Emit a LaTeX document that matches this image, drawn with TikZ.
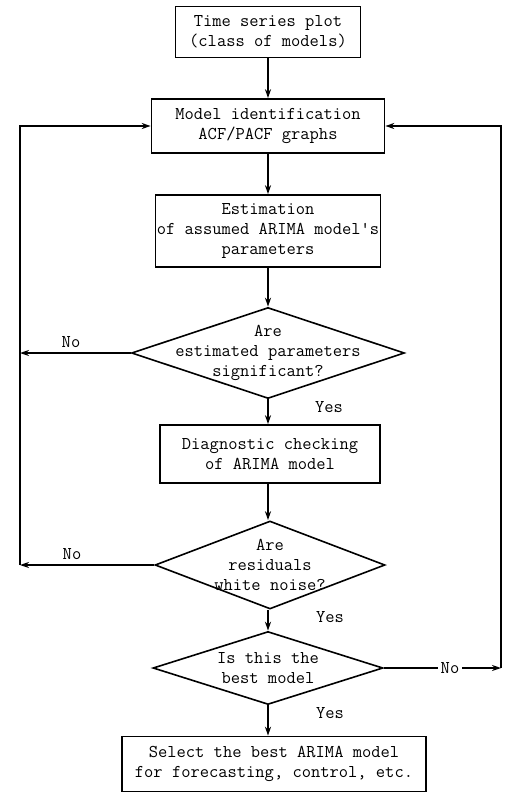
\documentclass[tikz,border=0pt]{standalone}
\usepackage{fontspec}
\usetikzlibrary{shapes.geometric,arrows.meta}

\begin{document}
\begin{tikzpicture}[x=1pt, y=-1pt,
  font=\fontsize{18}{20}\selectfont\ttfamily,
  block/.style={draw, line width=1.6pt, align=center, inner sep=0pt},
  decision/.style={draw, shape=diamond, line width=1.6pt, inner sep=0pt},
  flow/.style={-{Stealth[length=9pt,width=6pt]}, line width=1.6pt},
  tag/.style={inner sep=1pt}]
\useasboundingbox (0,0) rectangle (504,795);

% main column
\node[block, minimum width=185pt, minimum height=51pt] (plot) at (268,32) {Time series plot\\(class of models)};
\node[block, minimum width=233pt, minimum height=54pt] (ident) at (268,126) {Model identification\\ACF/PACF graphs};
\node[block, minimum width=225pt, minimum height=72pt] (estim) at (268,231) {Estimation\\of assumed ARIMA model's\\parameters};
\node[decision, minimum width=273pt, minimum height=91pt,
  label={[align=center]center:Are\\estimated parameters\\significant?}] (signif) at (268,353) {};
\node[block, minimum width=220pt, minimum height=58pt] (diag) at (270,454) {Diagnostic checking\\of ARIMA model};
\node[decision, minimum width=230pt, minimum height=88pt,
  label={[align=center]center:Are\\residuals\\white noise?}] (white) at (270,565) {};
\node[decision, minimum width=230pt, minimum height=73pt,
  label={[align=center]center:Is this the\\best model}] (best) at (268,668) {};
\node[block, minimum width=304pt, minimum height=55pt] (select) at (274,764) {Select the best ARIMA model\\for forecasting, control, etc.};

% loop corners
\coordinate (lbar) at (20,126);
\coordinate (rbar) at (501,126);

% down the column
\draw[flow] (plot.south) -- (plot.south |- ident.north);
\draw[flow] (ident.south) -- (ident.south |- estim.north);
\draw[flow] (estim.south) -- (estim.south |- signif.north);
\draw[flow] (signif.south) -- (signif.south |- diag.north);
\draw[flow] (diag.south -| signif.south) -- (white.north -| signif.south);
\draw[flow] (white.south -| signif.south) -- (best.north);
\draw[flow] (best.south) -- (best.south |- select.north);

\node[tag] (yes1) at (329,407) {Yes};
\node[tag] (yes2) at (330,617) {Yes};
\node[tag] (yes3) at (330,713) {Yes};

% back to identification
\draw[flow] (signif.west) -- (signif.west -| lbar);
\draw[flow] (white.west) -- (white.west -| lbar);
\draw[flow] (white.west -| lbar) -- (lbar) -- (ident.west);
\node[tag] (no1) at (71,342) {No};
\node[tag] (no2) at (72,554) {No};

\draw[flow] (best.east) -- (best.east -| rbar);
\draw[flow] (best.east -| rbar) -- (rbar) -- (ident.east);
\node[tag, fill=white, inner sep=3pt] (no3) at (450,668) {No};
\end{tikzpicture}
\end{document}
